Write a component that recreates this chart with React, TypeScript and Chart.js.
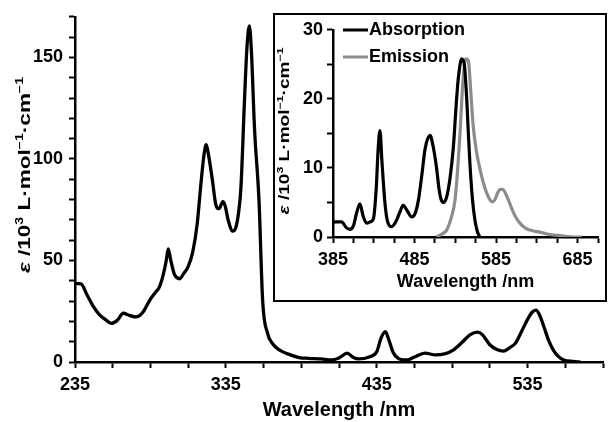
import React, { useEffect, useRef } from 'react';
import { Chart, registerables } from 'chart.js';

Chart.register(...registerables);

// ---------- Main absorption spectrum ----------
const mainWavelengths = [
  235, 239, 243, 247, 251, 255, 259, 263, 267, 271, 275.5, 280, 284.5, 288, 291, 293.5, 295.5, 296.8,
  298.5, 301, 304.4, 307, 310, 313, 316, 318.5, 320.5, 322, 323.5, 326, 328.5, 330.5, 333, 334.5, 336.5,
  339.5, 341.5, 343.5, 345, 347.3, 349, 350.6, 352, 354, 357, 359.4, 362.7, 366, 370.4, 376, 383.6, 390,
  398, 405, 410, 415.5, 419, 423, 430, 435, 438, 440.7, 443, 446, 450, 455, 460, 467, 474, 480, 486, 492,
  497, 502, 505, 510, 515, 519, 523, 527, 531, 535, 538, 540.5, 543, 546, 549, 552, 555, 559, 565, 570,
];
const mainEpsilon = [
  38.7, 38.5, 33, 27.5, 23.5, 21, 19, 20.5, 24, 23, 22.2, 24.5, 30.4, 34, 37, 43, 50, 55.7,
  50, 43, 41, 43.5, 47, 54, 68, 88, 102, 107, 102, 90, 77, 75.5, 79, 77, 70,
  64.5, 66, 74, 86, 128, 155, 165.5, 152, 115, 79, 30, 14, 9, 6, 4, 2.2, 1.8,
  1.5, 1, 2, 4.4, 2.5, 1.5, 2.5, 5, 12, 15, 11, 4.5, 1.5, 1, 2.5, 4.4, 3.5, 4, 6, 10,
  13.5, 14.7, 13.5, 8.5, 6, 5.4, 7, 9.3, 15, 21, 24.5, 25.5, 23, 17, 10.5, 6, 3, 1, 0.3, 0,
];
const mainXLabeled = [235, 335, 435, 535];
const mainYLabeled = [0, 50, 100, 150];

// ---------- Inset: absorption & emission ----------
const insetAbsWavelengths = [
  385, 388, 395.5, 401, 405.8, 410, 414, 418, 422, 426.3, 431, 434.5, 438, 440.5, 442.6, 445, 448.8, 452,
  457, 462, 467, 471, 476, 481.5, 486, 489.7, 494, 498, 504, 508, 512, 515, 518, 521, 524.4, 528.5, 532.6,
  536, 538.7, 542.8, 546, 549, 551, 553, 556, 559, 562, 565,
];
const insetAbsEpsilon = [
  2.1, 2.2, 2.2, 1.4, 1.1, 1.6, 3.5, 4.8, 3, 2, 2.2, 2.6, 7, 13, 15.4, 11, 4.8, 2.2,
  1.5, 2.2, 3.6, 4.6, 3.8, 2.9, 3.5, 5.3, 9, 12.8, 14.7, 13, 10, 7, 5.3, 5, 5.8, 8.5, 13,
  19, 23, 25.8, 25, 20, 15, 10.5, 5.5, 2.5, 0.8, 0,
];
const insetEmWavelengths = [
  512, 518, 524.4, 530, 534.6, 538, 540.8, 543, 545, 547.7, 551, 554, 557, 561, 565.3, 570, 574,
  578, 581, 584, 587, 590, 593, 597, 601, 605, 609, 615, 621, 630, 639, 649, 659, 670, 680, 690,
];
const insetEmIntensity = [
  0, 0.4, 1, 2.8, 5.3, 10, 15, 20, 23.5, 25.8, 25.5, 21, 16, 12.3, 9.8, 7.6, 6.2,
  5.3, 5.1, 5.5, 6.4, 6.9, 6.9, 6.2, 5.1, 3.9, 2.9, 1.9, 1.3, 0.9, 0.7, 0.4, 0.25, 0.1, 0, 0,
];
const insetXLabeled = [385, 485, 585, 685];
const insetYLabeled = [0, 10, 20, 30];
const seriesNames = ['Absorption', 'Emission'];

const FONT = '"Liberation Sans", Arial, Helvetica, sans-serif';

type Part = { text: string; sup?: boolean; italic?: boolean };
const yTitleParts: Part[] = [
  { text: 'ε', italic: true },
  { text: ' /10' },
  { text: '3', sup: true },
  { text: ' L·mol' },
  { text: '−1', sup: true },
  { text: '·cm' },
  { text: '−1', sup: true },
];

function partFont(p: Part, size: number) {
  const s = p.sup ? Math.round(size * 0.62) : size;
  return `${p.italic ? 'italic ' : ''}bold ${s}px ${FONT}`;
}

function drawVerticalTitle(
  ctx: CanvasRenderingContext2D,
  cx: number,
  cy: number,
  size: number,
  targetLen: number
) {
  ctx.save();
  let total = 0;
  const widths = yTitleParts.map((p) => {
    ctx.font = partFont(p, size);
    const w = ctx.measureText(p.text).width;
    total += w;
    return w;
  });
  const k = targetLen / total;
  ctx.translate(cx, cy);
  ctx.rotate(-Math.PI / 2);
  ctx.scale(k, 1);
  ctx.fillStyle = '#000';
  ctx.textBaseline = 'alphabetic';
  ctx.textAlign = 'left';
  let x = -total / 2;
  const base = size * 0.36;
  yTitleParts.forEach((p, i) => {
    ctx.font = partFont(p, size);
    ctx.fillText(p.text, x, p.sup ? base - size * 0.42 : base);
    x += widths[i];
  });
  ctx.restore();
}

function makeTicks(min: number, max: number, step: number) {
  const out: { value: number }[] = [];
  for (let v = min; v <= max + 1e-9; v += step) out.push({ value: v });
  return out;
}

function axisBase(tickSize: number, pad: number) {
  return {
    grid: {
      display: true,
      drawOnChartArea: false,
      drawTicks: true,
      tickLength: 6,
      tickWidth: 2,
      tickColor: '#000',
      color: '#000',
    },
    border: { display: true, color: '#000', width: 2.5 },
    ticks: {
      autoSkip: false,
      maxRotation: 0,
      minRotation: 0,
      color: '#000',
      padding: pad,
      font: { family: FONT, size: tickSize, weight: 'bold' as const },
    },
  };
}

export default function App() {
  const mainRef = useRef<HTMLCanvasElement | null>(null);
  const insetRef = useRef<HTMLCanvasElement | null>(null);

  useEffect(() => {
    if (!mainRef.current || !insetRef.current) return;

    const mainYTitle = {
      id: 'mainYTitle',
      afterDraw(chart: any) {
        drawVerticalTitle(chart.ctx, 24, 175, 16, 196);
      },
    };

    const mainBaseX = axisBase(18, 6);
    const mainBaseY = axisBase(18, 6);
    const main = new Chart(mainRef.current, {
      type: 'line',
      data: {
        datasets: [
          {
            label: seriesNames[0],
            data: mainWavelengths.map((x, i) => ({ x, y: mainEpsilon[i] })),
            borderColor: '#000',
            borderWidth: 3.3,
            pointRadius: 0,
            tension: 0.4,
            cubicInterpolationMode: 'monotone',
            fill: false,
          },
        ],
      },
      options: {
        responsive: false,
        animation: false,
        events: [],
        layout: { padding: { left: 0, right: 4, top: 14, bottom: 0 } },
        plugins: { legend: { display: false }, tooltip: { enabled: false }, title: { display: false } },
        scales: {
          x: {
            type: 'linear',
            min: 235,
            max: 585,
            ...mainBaseX,
            ticks: {
              ...mainBaseX.ticks,
              callback: (v: any) => (mainXLabeled.includes(Number(v)) ? String(v) : ''),
            },
            afterBuildTicks: (s: any) => {
              s.ticks = makeTicks(235, 585, 25);
            },
            afterFit: (s: any) => {
              s.height = 60;
            },
            title: {
              display: true,
              text: 'Wavelength /nm',
              color: '#000',
              font: { family: FONT, size: 20, weight: 'bold' },
              padding: { top: 0, bottom: 0 },
            },
          },
          y: {
            type: 'linear',
            min: 0,
            max: 170,
            ...mainBaseY,
            ticks: {
              ...mainBaseY.ticks,
              callback: (v: any) => (mainYLabeled.includes(Number(v)) ? String(v) : ''),
            },
            afterBuildTicks: (s: any) => {
              s.ticks = makeTicks(0, 170, 10);
            },
            afterFit: (s: any) => {
              s.width = 75;
            },
          },
        },
      } as any,
      plugins: [mainYTitle],
    });

    const insetYTitle = {
      id: 'insetYTitle',
      afterDraw(chart: any) {
        drawVerticalTitle(chart.ctx, 9, 116, 14, 167);
      },
    };
    const insetLegend = {
      id: 'insetLegend',
      afterDraw(chart: any) {
        const ctx = chart.ctx as CanvasRenderingContext2D;
        ctx.save();
        chart.data.datasets.forEach((ds: any, i: number) => {
          const y = 15 + i * 27;
          ctx.strokeStyle = ds.borderColor;
          ctx.lineWidth = 3;
          ctx.beginPath();
          ctx.moveTo(68, y);
          ctx.lineTo(93, y);
          ctx.stroke();
          ctx.fillStyle = '#000';
          ctx.font = `bold 18px ${FONT}`;
          ctx.textBaseline = 'middle';
          ctx.textAlign = 'left';
          ctx.fillText(ds.label, 94, y);
        });
        ctx.restore();
      },
    };

    const inBaseX = axisBase(18, 6);
    const inBaseY = axisBase(18, 4);
    const inset = new Chart(insetRef.current, {
      type: 'line',
      data: {
        datasets: [
          {
            label: seriesNames[0],
            data: insetAbsWavelengths.map((x, i) => ({ x, y: insetAbsEpsilon[i] })),
            borderColor: '#000',
            borderWidth: 3.2,
            pointRadius: 0,
            tension: 0.4,
            cubicInterpolationMode: 'monotone',
            fill: false,
            order: 0,
          },
          {
            label: seriesNames[1],
            data: insetEmWavelengths.map((x, i) => ({ x, y: insetEmIntensity[i] })),
            borderColor: '#8c8c8c',
            borderWidth: 3.2,
            pointRadius: 0,
            tension: 0.4,
            cubicInterpolationMode: 'monotone',
            fill: false,
            order: 1,
          },
        ],
      },
      options: {
        responsive: false,
        animation: false,
        events: [],
        layout: { padding: { left: 0, right: 7, top: 14, bottom: 0 } },
        plugins: { legend: { display: false }, tooltip: { enabled: false }, title: { display: false } },
        scales: {
          x: {
            type: 'linear',
            min: 385,
            max: 710,
            ...inBaseX,
            ticks: {
              ...inBaseX.ticks,
              callback: (v: any) => (insetXLabeled.includes(Number(v)) ? String(v) : ''),
            },
            afterBuildTicks: (s: any) => {
              s.ticks = makeTicks(385, 710, 25);
            },
            afterFit: (s: any) => {
              s.height = 63;
            },
            title: {
              display: true,
              text: 'Wavelength /nm',
              color: '#000',
              font: { family: FONT, size: 18, weight: 'bold' },
              padding: { top: 0, bottom: 7 },
            },
          },
          y: {
            type: 'linear',
            min: 0,
            max: 30,
            ...inBaseY,
            ticks: {
              ...inBaseY.ticks,
              callback: (v: any) => (insetYLabeled.includes(Number(v)) ? String(v) : ''),
            },
            afterBuildTicks: (s: any) => {
              s.ticks = makeTicks(0, 30, 5);
            },
            afterFit: (s: any) => {
              s.width = 58;
            },
          },
        },
      } as any,
      plugins: [insetYTitle, insetLegend],
    });

    return () => {
      main.destroy();
      inset.destroy();
    };
  }, []);

  return (
    <div style={{ position: 'fixed', left: 0, top: 0, width: 609, height: 422, background: '#fff' }}>
      <canvas
        ref={mainRef}
        width={609}
        height={422}
        style={{ position: 'absolute', left: 0, top: 0, width: 609, height: 422 }}
      />
      <div
        style={{
          position: 'absolute',
          left: 273,
          top: 13,
          width: 334,
          height: 289,
          boxSizing: 'border-box',
          border: '2px solid #000',
          background: '#fff',
        }}
      >
        <canvas ref={insetRef} width={330} height={285} style={{ display: 'block', width: 330, height: 285 }} />
      </div>
    </div>
  );
}
